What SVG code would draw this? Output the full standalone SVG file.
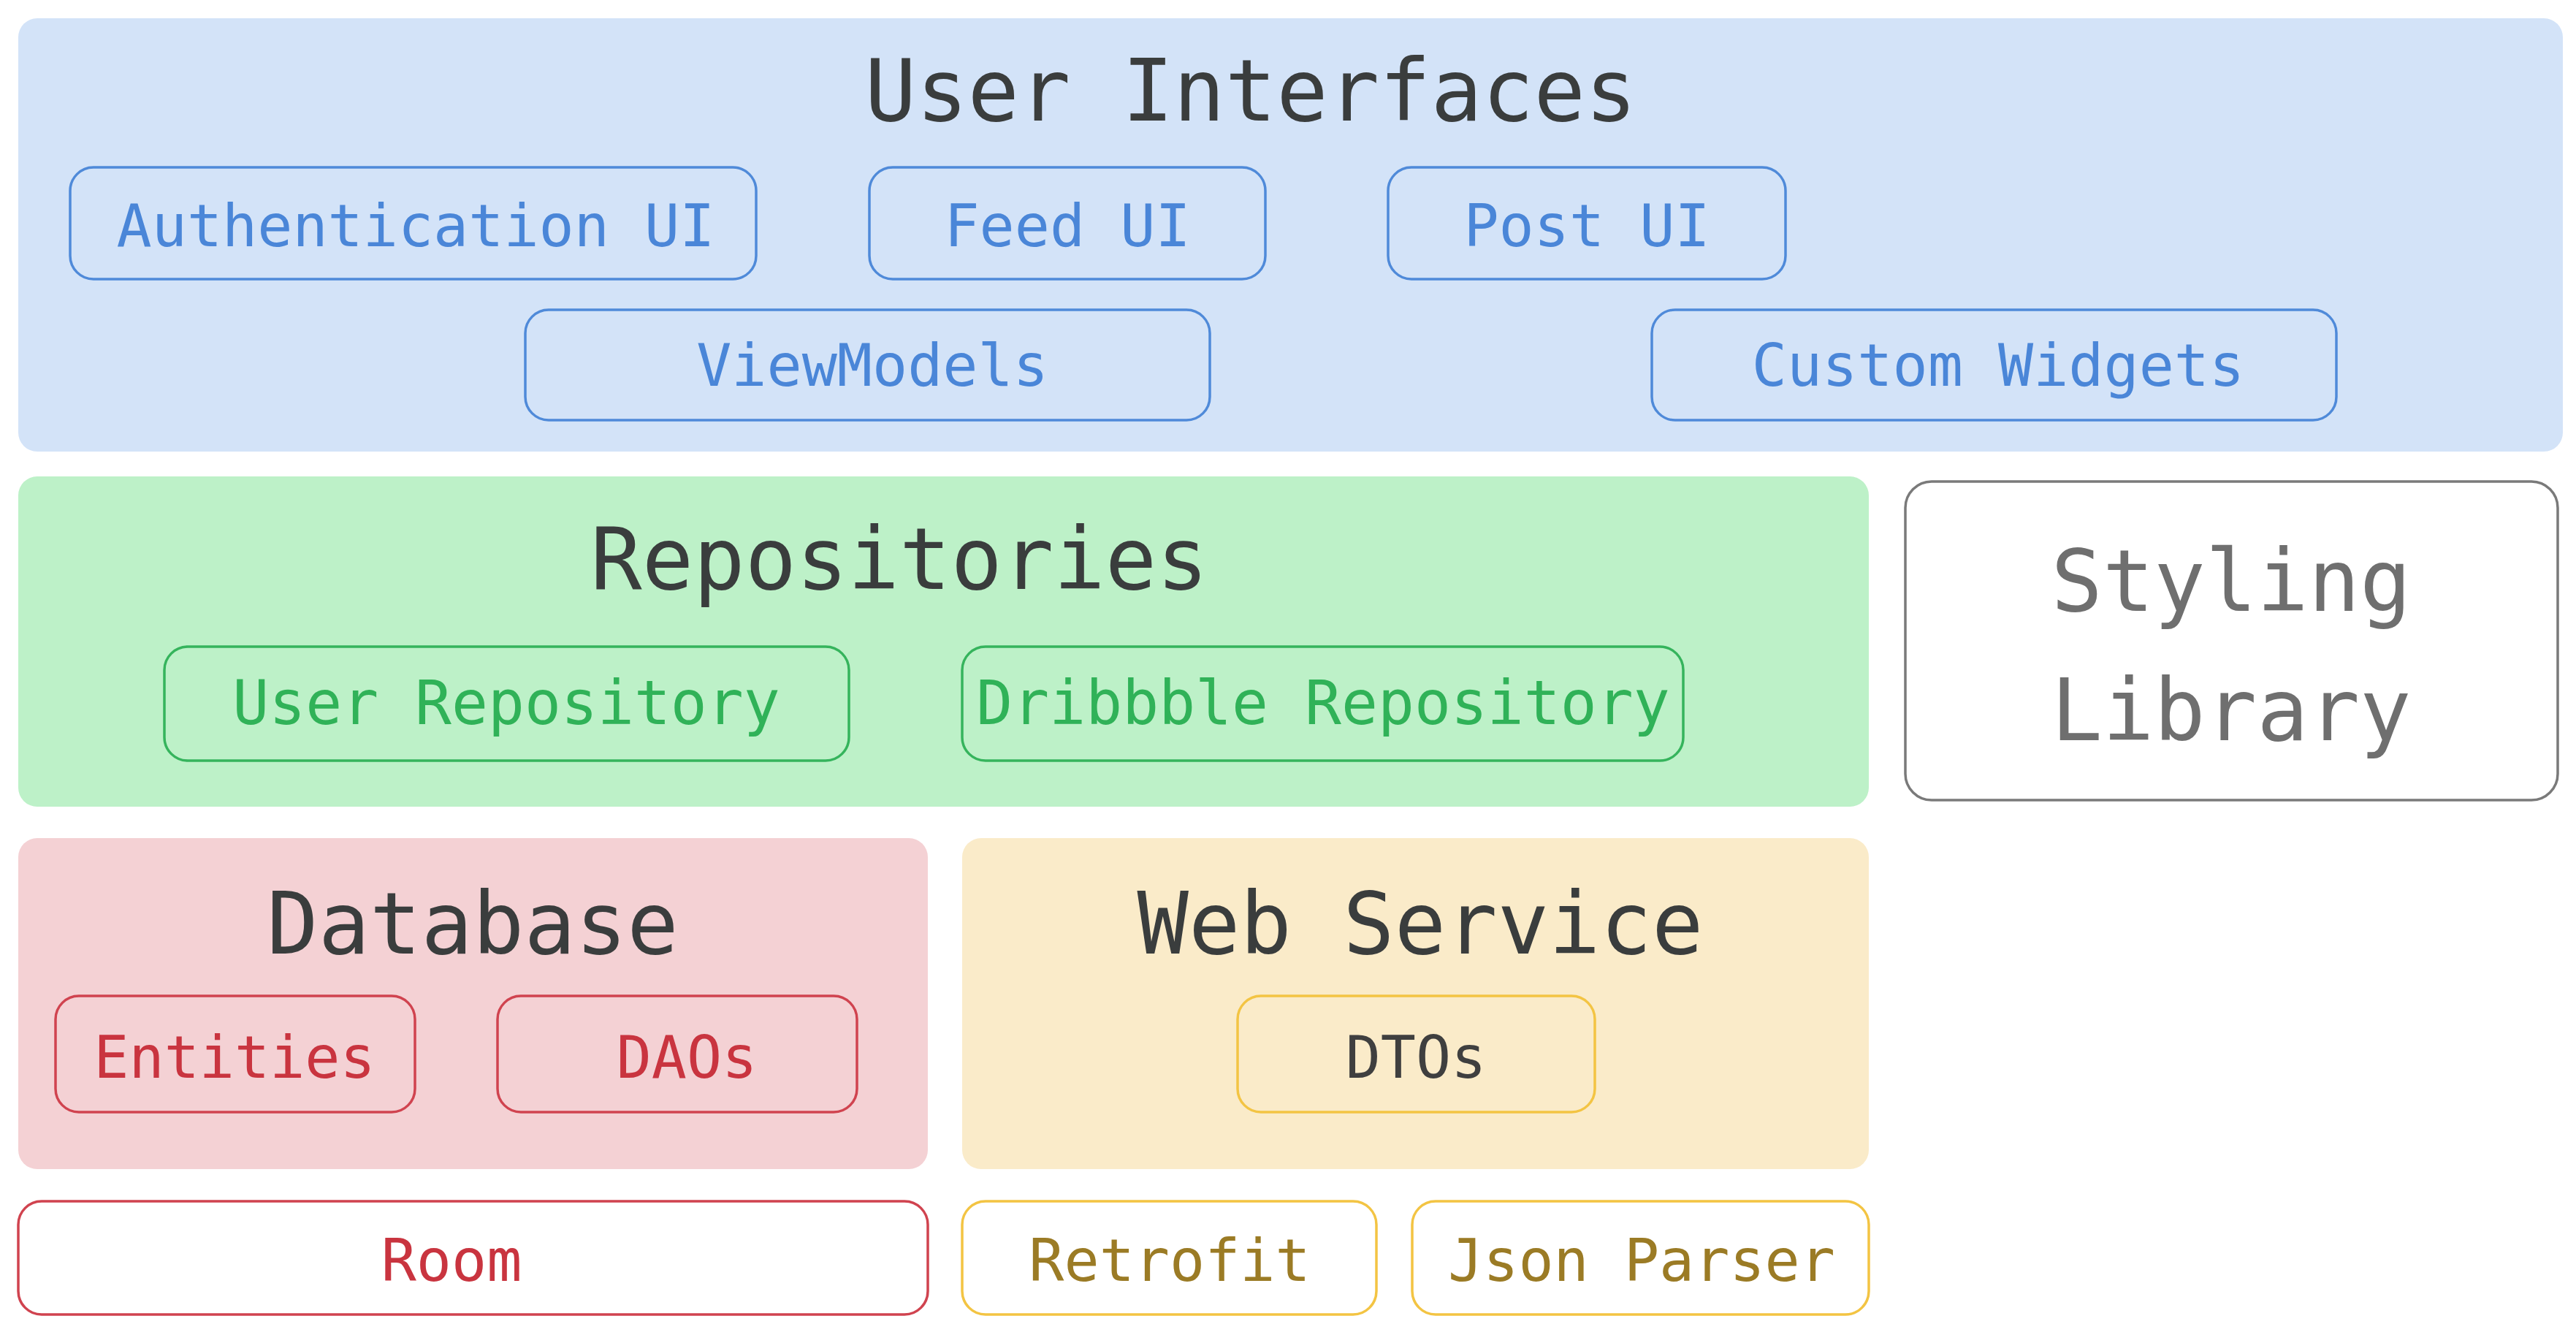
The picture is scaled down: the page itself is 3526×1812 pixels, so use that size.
<svg xmlns="http://www.w3.org/2000/svg" width="3526" height="1812" viewBox="0 0 3526 1812">
<style>
text{font-family:"DejaVu Sans Mono","Liberation Mono",monospace;text-anchor:middle}
.title{font-size:117px;fill:#3a3d3d}
.sub{font-size:80px}
.panel{stroke:none}
.box{stroke-width:3.5}
.blue .panel{fill:#d3e3f8}
.blue .box{fill:#d3e3f8;stroke:#4f8ad9}
.blue .sub{fill:#4a86d8}
.green .panel{fill:#bdf1c8}
.green .box{fill:#bdf1c8;stroke:#35b45c}
.green .sub{fill:#30b258;font-size:83px}
.red .panel{fill:#f4d1d4}
.red .box{fill:#f4d1d4;stroke:#d0434f}
.red .sub{fill:#c9343f}
.yellow .panel{fill:#faebc9}
.yellow .box{fill:#faebc9;stroke:#f3c443}
.lib .box{fill:#ffffff}
</style>
<rect x="0" y="0" width="3526" height="1812" fill="#ffffff"/>

<g id="user-interfaces" class="blue">
  <rect class="panel" x="25" y="25" width="3483" height="593" rx="26"/>
  <text class="title" x="1712" y="165">User Interfaces</text>
  <g id="authentication-ui">
    <rect class="box" x="96" y="229" width="939" height="153" rx="32"/>
    <text class="sub" x="569" y="337">Authentication UI</text>
  </g>
  <g id="feed-ui">
    <rect class="box" x="1190" y="229" width="542" height="153" rx="32"/>
    <text class="sub" x="1461" y="337">Feed UI</text>
  </g>
  <g id="post-ui">
    <rect class="box" x="1900" y="229" width="544" height="153" rx="32"/>
    <text class="sub" x="2172" y="337">Post UI</text>
  </g>
  <g id="viewmodels">
    <rect class="box" x="719" y="424" width="937" height="151" rx="32"/>
    <text class="sub" x="1194" y="528">ViewModels</text>
  </g>
  <g id="custom-widgets">
    <rect class="box" x="2261" y="424" width="937" height="151" rx="32"/>
    <text class="sub" x="2735" y="528">Custom Widgets</text>
  </g>
</g>

<g id="repositories" class="green">
  <rect class="panel" x="25" y="652" width="2533" height="452" rx="26"/>
  <text class="title" x="1231" y="806">Repositories</text>
  <g id="user-repository">
    <rect class="box" x="225" y="885" width="937" height="156" rx="32"/>
    <text class="sub" x="693" y="991">User Repository</text>
  </g>
  <g id="dribbble-repository">
    <rect class="box" x="1317" y="885" width="987" height="156" rx="32"/>
    <text class="sub" x="1811" y="991">Dribbble Repository</text>
  </g>
</g>

<g id="styling-library" class="lib">
  <rect class="box" x="2608" y="659" width="893" height="436" rx="36" stroke="#7a7a7a"/>
  <text class="title" x="3054" y="836" style="fill:#6f6f6f">Styling</text>
  <text class="title" x="3054" y="1013" style="fill:#6f6f6f">Library</text>
</g>

<g id="database" class="red">
  <rect class="panel" x="25" y="1147" width="1245" height="453" rx="26"/>
  <text class="title" x="647" y="1305">Database</text>
  <g id="entities">
    <rect class="box" x="76" y="1363" width="492" height="159" rx="32"/>
    <text class="sub" x="321" y="1475">Entities</text>
  </g>
  <g id="daos">
    <rect class="box" x="681" y="1363" width="492" height="159" rx="32"/>
    <text class="sub" x="940" y="1475">DAOs</text>
  </g>
</g>

<g id="room" class="red">
  <rect class="box" x="25" y="1644" width="1245" height="155" rx="32" style="fill:#ffffff"/>
  <text class="sub" x="618" y="1753">Room</text>
</g>

<g id="web-service" class="yellow">
  <rect class="panel" x="1317" y="1147" width="1241" height="453" rx="26"/>
  <text class="title" x="1944" y="1305">Web Service</text>
  <g id="dtos">
    <rect class="box" x="1694" y="1363" width="489" height="159" rx="32"/>
    <text class="sub" x="1938" y="1475" style="fill:#3f3f3f">DTOs</text>
  </g>
</g>

<g id="retrofit" class="yellow">
  <rect class="box" x="1317" y="1644" width="567" height="155" rx="32" style="fill:#ffffff"/>
  <text class="sub" x="1601" y="1753" style="fill:#9b7b25">Retrofit</text>
</g>

<g id="json-parser" class="yellow">
  <rect class="box" x="1933" y="1644" width="625" height="155" rx="32" style="fill:#ffffff"/>
  <text class="sub" x="2247" y="1753" style="fill:#9b7b25">Json Parser</text>
</g>

<g id="connectors"></g>
</svg>
